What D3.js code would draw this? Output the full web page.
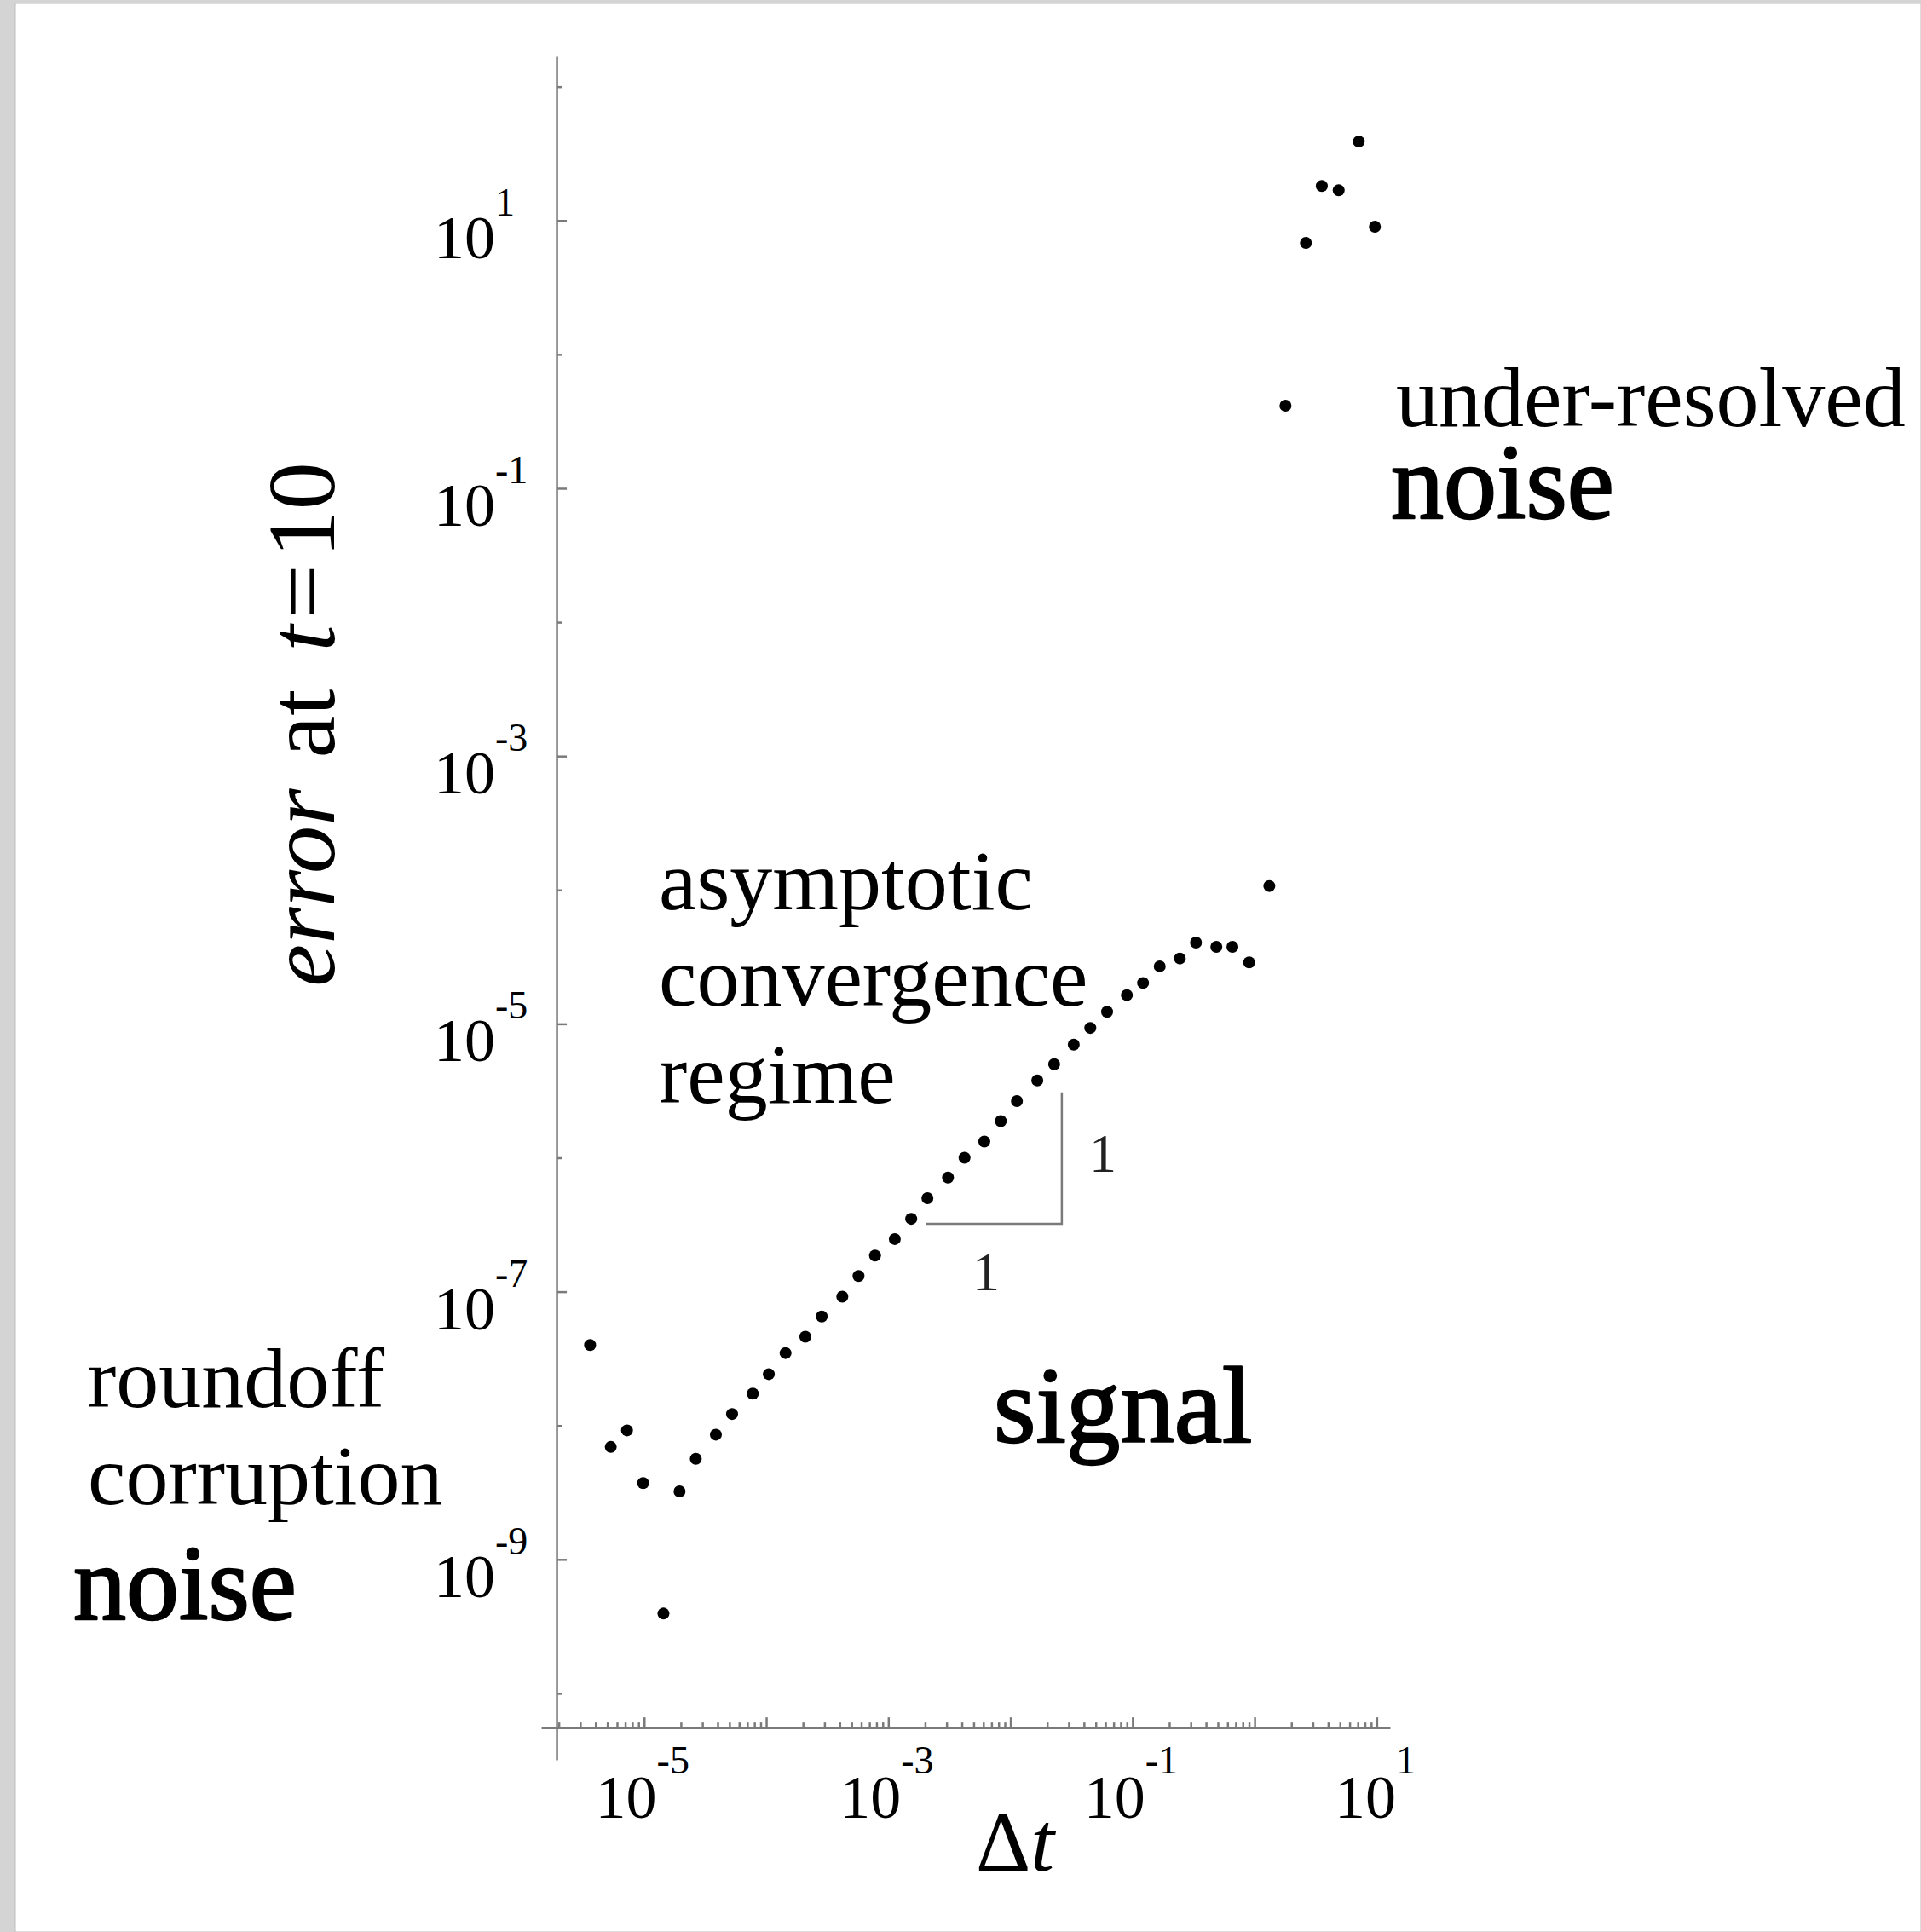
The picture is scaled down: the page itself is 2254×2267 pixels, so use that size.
<!DOCTYPE html>
<html>
<head>
<meta charset="utf-8">
<script src="https://cdn.jsdelivr.net/npm/d3@7"></script>
<style>
  html, body { margin: 0; padding: 0; background: #d4d4d4; }
  svg { display: block; }
</style>
</head>
<body>
<svg id="chart" width="2254" height="2267"></svg>
<script>
// ---------------- data ----------------
const dtValues = [3.61e-6, 5.33e-6, 7.24e-6, 9.82e-6, 1.44e-5, 1.95e-5, 2.65e-5, 3.87e-5, 5.25e-5, 7.76e-5,
  1.05e-4, 1.44e-4, 2.09e-4, 2.85e-4, 4.20e-4, 5.70e-4, 7.78e-4, 1.13e-3, 1.54e-3, 2.09e-3,
  3.08e-3, 4.21e-3, 6.11e-3, 8.34e-3, 1.13e-2, 1.66e-2, 2.28e-2, 3.30e-2, 4.51e-2, 6.19e-2,
  8.99e-2, 0.122, 0.167, 0.244, 0.331, 0.486, 0.658, 0.902, 1.32, 1.79,
  2.63, 3.55, 4.88, 7.13, 9.66];
const errorValues = [3.99e-8, 6.92e-9, 9.20e-9, 3.72e-9, 3.94e-10, 3.22e-9, 5.64e-9, 8.55e-9, 1.22e-8, 1.73e-8,
  2.42e-8, 3.48e-8, 4.61e-8, 6.52e-8, 9.18e-8, 1.31e-7, 1.86e-7, 2.47e-7, 3.50e-7, 4.98e-7,
  7.11e-7, 1.00e-6, 1.32e-6, 1.88e-6, 2.65e-6, 3.78e-6, 5.00e-6, 7.00e-6, 9.33e-6, 1.23e-5,
  1.64e-5, 2.02e-5, 2.69e-5, 3.08e-5, 4.05e-5, 3.76e-5, 3.76e-5, 2.88e-5, 1.07e-4, 0.414,
  6.81, 18.1, 16.8, 38.9, 8.99];

const xTickValues = [1e-5, 1e-3, 1e-1, 1e1];
const xTickExponents = ["-5", "-3", "-1", "1"];
const yTickValues = [1e1, 1e-1, 1e-3, 1e-5, 1e-7, 1e-9];
const yTickExponents = ["1", "-1", "-3", "-5", "-7", "-9"];

// axis extents / crossing (data space)
const xAxisExtent = [10 ** -5.843, 10 ** 1.109];
const yAxisExtent = [10 ** -10.497, 10 ** 2.227];
const xAxisCrossAtError = 10 ** -10.256;
const yAxisCrossAtDt = 10 ** -5.717;

// slope triangle (data space)
const slopeDt = [10 ** -2.695, 10 ** -1.579];
const slopeErr = [10 ** -6.494, 10 ** -5.511];

// ---------------- drawing ----------------
const svg = d3.select("#chart");
const serif = "'Liberation Serif', 'Times New Roman', serif";
const axisColor = "#7a7a7a";

svg.append("rect").attr("x", 18).attr("y", 4).attr("width", 2254 - 18).attr("height", 2267 - 4)
  .attr("fill", "#ffffff").attr("stroke", "#bdbdbd").attr("stroke-width", 1);

const x = d3.scaleLog().domain(xAxisExtent).range([635, 1631]);
const y = d3.scaleLog().domain(yAxisExtent).range([2065, 66]);

const xAxisY = y(xAxisCrossAtError);
const yAxisX = x(yAxisCrossAtDt);

// x minor ticks
const xMinor = [];
for (let e = -6; e <= 1; e++) for (let m = 2; m <= 9; m++) {
  const v = m * Math.pow(10, e);
  if (v > 10 ** -5.7 && v < xAxisExtent[1]) xMinor.push(v);
}
const xMajor = [];
for (let e = -5; e <= 1; e++) xMajor.push(Math.pow(10, e));

function styleAxis(g) {
  g.selectAll("path, line").attr("stroke", axisColor).attr("stroke-width", 2.5);
  g.selectAll("text").remove();
}

svg.append("g").attr("transform", `translate(0,${xAxisY})`)
  .call(d3.axisBottom(x).tickValues(xMinor).tickSizeInner(-6).tickSizeOuter(0).tickFormat(""))
  .call(styleAxis);
svg.append("g").attr("transform", `translate(0,${xAxisY})`)
  .call(d3.axisBottom(x).tickValues(xMajor).tickSizeInner(-12).tickSizeOuter(0).tickFormat(""))
  .call(styleAxis).call(g => g.select(".domain").remove());

// y ticks: every decade, labelled (odd) longer
const yMinor = [], yMajor = [];
for (let e = -10; e <= 2; e++) (Math.abs(e) % 2 === 1 ? yMajor : yMinor).push(Math.pow(10, e));

svg.append("g").attr("transform", `translate(${yAxisX},0)`)
  .call(d3.axisLeft(y).tickValues(yMinor).tickSizeInner(-6).tickSizeOuter(0).tickFormat(""))
  .call(styleAxis);
svg.append("g").attr("transform", `translate(${yAxisX},0)`)
  .call(d3.axisLeft(y).tickValues(yMajor).tickSizeInner(-12).tickSizeOuter(0).tickFormat(""))
  .call(styleAxis).call(g => g.select(".domain").remove());

// x tick labels
const xl = svg.append("g").selectAll("text").data(xTickValues).join("text")
  .attr("x", d => x(d) - 2).attr("y", 2133)
  .attr("text-anchor", "middle").attr("font-family", serif).attr("font-size", 72).attr("fill", "#000");
xl.append("tspan").text("10");
xl.append("tspan").attr("dy", -52).attr("font-size", 46).text((d, i) => xTickExponents[i]);

// y tick labels
const yl = svg.append("g").selectAll("text").data(yTickValues).join("text")
  .attr("x", 509).attr("y", d => y(d) + 44)
  .attr("text-anchor", "start").attr("font-family", serif).attr("font-size", 72).attr("fill", "#000");
yl.append("tspan").text("10");
yl.append("tspan").attr("dy", -50).attr("font-size", 46).text((d, i) => yTickExponents[i]);

// axis titles
const xt = svg.append("text").attr("x", 1191).attr("y", 2195).attr("text-anchor", "middle")
  .attr("font-family", serif).attr("font-size", 100).attr("fill", "#000");
xt.append("tspan").text("Δ");
xt.append("tspan").attr("font-style", "italic").text("t");

const yt = svg.append("text").attr("transform", "translate(392,850) rotate(-90)")
  .attr("text-anchor", "middle").attr("font-family", serif).attr("font-size", 112).attr("fill", "#000");
yt.append("tspan").attr("font-style", "italic").text("error");
yt.append("tspan").attr("dx", 8).text(" at ");
yt.append("tspan").attr("dx", 16).attr("font-style", "italic").text("t");
yt.append("tspan").attr("dx", 8).text("=");
yt.append("tspan").attr("dx", 8).text("10");

// slope triangle
svg.append("path")
  .attr("d", d3.line()([[x(slopeDt[0]), y(slopeErr[0])], [x(slopeDt[1]), y(slopeErr[0])], [x(slopeDt[1]), y(slopeErr[1])]]))
  .attr("fill", "none").attr("stroke", axisColor).attr("stroke-width", 2.5);
svg.append("text").attr("x", 1294).attr("y", 1375).attr("text-anchor", "middle")
  .attr("font-family", serif).attr("font-size", 64).attr("fill", "#222").text("1");
svg.append("text").attr("x", 1157).attr("y", 1514).attr("text-anchor", "middle")
  .attr("font-family", serif).attr("font-size", 64).attr("fill", "#222").text("1");

// points
svg.append("g").selectAll("circle").data(dtValues).join("circle")
  .attr("cx", d => x(d)).attr("cy", (d, i) => y(errorValues[i]))
  .attr("r", 7).attr("fill", "#000");

// annotations
function note(txt, px, py, size, heavy) {
  const t = svg.append("text").attr("x", px).attr("y", py).attr("font-family", serif)
    .attr("font-size", size).attr("fill", "#000").text(txt);
  if (heavy) t.attr("stroke", "#000").attr("stroke-width", 2.4).attr("stroke-linejoin", "round");
}
note("under-resolved", 1638, 500, 100, false);
note("noise", 1632, 608, 124, true);
note("asymptotic", 773, 1067, 100, false);
note("convergence", 773, 1180, 100, false);
note("regime", 773, 1294, 100, false);
note("roundoff", 103, 1651, 100, false);
note("corruption", 103, 1765, 100, false);
note("noise", 86, 1900, 124, true);
note("signal", 1166, 1692, 127, true);
</script>
</body>
</html>
